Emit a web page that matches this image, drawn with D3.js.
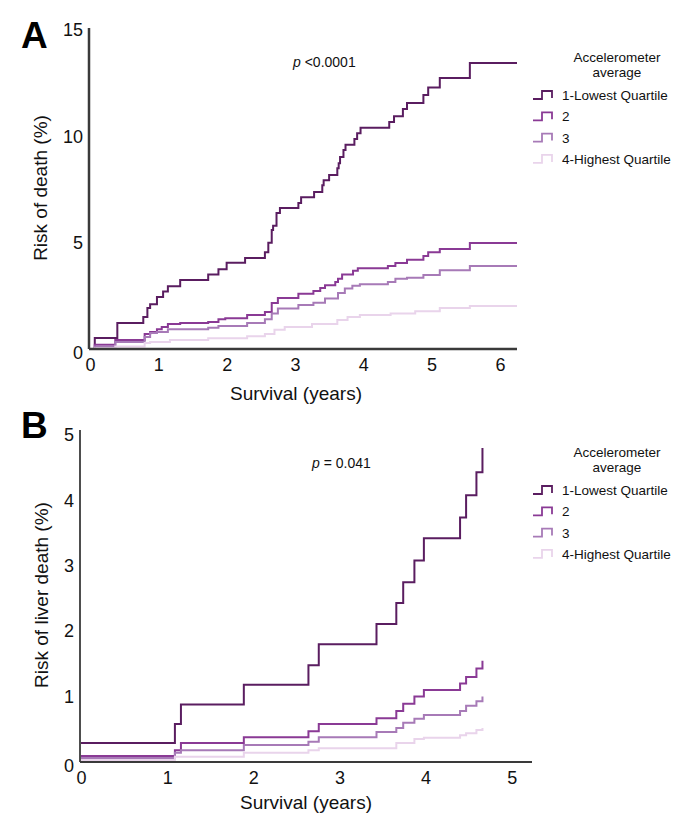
<!DOCTYPE html>
<meta charset="utf-8">
<script src="https://d3js.org/d3.v7.min.js"></script>
<style>
body { margin: 0; background: #fff; }
svg { display: block; font-family: "Liberation Sans", Arial, sans-serif; }
.tick text { font-size: 18px; fill: #111; }
.axis-title { font-size: 19px; fill: #111; }
.legend text { font-size: 13.5px; fill: #111; }
</style>
<body>
<div class="chart"></div>
<script>

// legend categories and colours
var quartiles = ["1-Lowest Quartile", "2", "3", "4-Highest Quartile"],
    colors = ["#5a1d60", "#8a3a95", "#a77ab7", "#e9d4eb"];

// Panel A: cumulative risk of death (%), [years, risk]
var deathQ1 = [[0,0],[0.07,0.52],[0.4,1.22],[0.78,1.5],[0.84,1.93],[0.88,2.1],[0.98,2.45],[1.07,2.7],[1.14,2.95],[1.32,3.24],[1.73,3.5],[1.88,3.75],[2.0,4.05],[2.27,4.28],[2.56,4.55],[2.61,5.0],[2.66,5.6],[2.68,5.8],[2.73,6.4],[2.78,6.63],[3.05,6.86],[3.09,7.14],[3.28,7.38],[3.4,7.7],[3.42,7.94],[3.5,8.18],[3.62,8.5],[3.64,8.74],[3.66,9.03],[3.71,9.36],[3.74,9.6],[3.87,9.87],[3.91,10.15],[3.96,10.4],[4.38,10.67],[4.45,10.95],[4.58,11.28],[4.64,11.57],[4.88,11.94],[4.95,12.3],[5.12,12.74],[5.56,13.45],[6.25,13.45]];
var deathQ2 = [[0,0],[0.07,0.2],[0.37,0.42],[0.8,0.7],[0.88,0.8],[0.98,0.93],[1.05,1.03],[1.14,1.17],[1.32,1.22],[1.73,1.27],[1.88,1.4],[1.98,1.45],[2.3,1.6],[2.56,1.74],[2.66,2.16],[2.75,2.4],[3.05,2.6],[3.27,2.73],[3.37,2.87],[3.44,3.0],[3.59,3.15],[3.63,3.3],[3.69,3.5],[3.85,3.68],[3.92,3.8],[4.36,3.9],[4.47,4.04],[4.64,4.2],[4.88,4.37],[4.95,4.55],[5.12,4.7],[5.56,4.98],[6.25,4.98]];
var deathQ3 = [[0,0],[0.07,0.12],[0.37,0.33],[0.8,0.56],[0.88,0.75],[0.98,0.8],[1.14,0.93],[1.73,1.0],[1.88,1.08],[2.3,1.22],[2.56,1.4],[2.66,1.67],[2.75,1.9],[3.05,2.07],[3.27,2.18],[3.44,2.38],[3.63,2.63],[3.73,2.85],[3.84,2.97],[3.95,3.05],[4.36,3.15],[4.47,3.3],[4.64,3.35],[4.88,3.48],[5.12,3.7],[5.56,3.9],[6.25,3.9]];
var deathQ4 = [[0,0],[0.07,0.04],[0.37,0.12],[0.8,0.28],[0.88,0.33],[1.17,0.42],[1.73,0.5],[2.3,0.6],[2.56,0.7],[2.7,0.9],[2.85,1.03],[3.25,1.17],[3.62,1.36],[3.77,1.5],[3.95,1.6],[4.4,1.67],[4.76,1.78],[5.12,1.93],[5.56,2.02],[6.25,2.02]];

// Panel B: cumulative risk of liver death (%)
var liverQ1 = [[0,0.29],[1.09,0.58],[1.16,0.88],[1.89,1.18],[2.64,1.48],[2.76,1.8],[3.43,2.11],[3.66,2.43],[3.74,2.75],[3.87,3.08],[3.98,3.42],[4.4,3.74],[4.47,4.08],[4.59,4.43],[4.66,4.8]];
var liverQ2 = [[0,0.09],[1.09,0.18],[1.16,0.29],[1.89,0.38],[2.64,0.47],[2.76,0.58],[3.43,0.67],[3.66,0.78],[3.74,0.89],[3.87,1.0],[3.98,1.1],[4.4,1.2],[4.47,1.3],[4.59,1.43],[4.66,1.55]];
var liverQ3 = [[0,0.06],[1.09,0.14],[1.16,0.18],[1.89,0.26],[2.64,0.31],[2.76,0.38],[3.43,0.46],[3.66,0.52],[3.74,0.6],[3.87,0.66],[3.98,0.72],[4.4,0.78],[4.47,0.86],[4.59,0.93],[4.66,1.0]];
var liverQ4 = [[0,0.03],[1.09,0.08],[1.89,0.14],[2.64,0.18],[2.76,0.21],[3.66,0.29],[3.87,0.35],[3.98,0.37],[4.4,0.41],[4.47,0.44],[4.59,0.49],[4.66,0.52]];

var xTicksA = [0, 1, 2, 3, 4, 5, 6], yTicksA = [0, 5, 10, 15],
    xTicksB = [0, 1, 2, 3, 4, 5], yTicksB = [0, 1, 2, 3, 4, 5];

var svg = d3.select(".chart").append("svg")
    .attr("width", 692)
    .attr("height", 820);

function panel(opt) {
  var g = svg.append("g");
  var x = d3.scaleLinear().domain(opt.xDomain).range(opt.xRange),
      y = d3.scaleLinear().domain(opt.yDomain).range(opt.yRange);

  // curves
  var line = d3.line()
      .x(function(d) { return x(d[0]); })
      .y(function(d) { return y(d[1]); })
      .curve(d3.curveStepAfter);

  g.selectAll(".km")
    .data(opt.series)
    .enter().append("path")
      .attr("class", "km")
      .attr("d", line)
      .attr("fill", "none")
      .attr("stroke", function(d, i) { return colors[i]; })
      .attr("stroke-width", 2);

  // axes
  g.append("g")
      .attr("transform", "translate(0," + opt.yRange[0] + ")")
      .call(d3.axisBottom(x).tickValues(opt.xTicks).tickFormat(d3.format("d"))
              .tickSize(0).tickPadding(9).tickSizeOuter(0))
      .call(function(a) {
        a.attr("font-family", null).attr("font-size", null);
        a.select(".domain").attr("stroke", "#3a3a3a").attr("stroke-width", opt.axisWidth)
          .attr("d", "M" + opt.axisX + ",0H" + opt.xRange[1]);
      });

  g.append("g")
      .attr("transform", "translate(" + opt.axisX + ",0)")
      .call(d3.axisLeft(y).tickValues(opt.yTicks).tickFormat(d3.format("d"))
              .tickSize(0).tickPadding(6).tickSizeOuter(0))
      .call(function(a) {
        a.attr("font-family", null).attr("font-size", null);
        a.select(".domain").attr("stroke", "#3a3a3a").attr("stroke-width", opt.axisWidth)
          .attr("d", "M0," + opt.yRange[0] + "V" + opt.axisTop);
        a.selectAll(".tick").filter(function(d) { return d === 0; })
          .select("text").attr("dy", "0.55em");
      });

  // titles
  g.append("text")
      .attr("class", "axis-title")
      .attr("x", opt.xTitle[0]).attr("y", opt.xTitle[1])
      .attr("text-anchor", "middle")
      .text("Survival (years)");

  g.append("text")
      .attr("class", "axis-title")
      .attr("transform", "translate(" + opt.yTitle[0] + "," + opt.yTitle[1] + ") rotate(-90)")
      .attr("text-anchor", "middle")
      .text(opt.yLabel);

  g.append("text")
      .attr("x", 21).attr("y", opt.letterY)
      .attr("font-size", 37).attr("font-weight", "bold")
      .text(opt.letter);

  var p = g.append("text")
      .attr("x", opt.pPos[0]).attr("y", opt.pPos[1])
      .attr("font-size", 14).attr("fill", "#111");
  p.append("tspan").attr("font-style", "italic").text("p");
  p.append("tspan").text(opt.pText);

  // legend
  var leg = g.append("g").attr("class", "legend")
      .attr("transform", "translate(0," + opt.legendY + ")");

  leg.append("text").attr("x", 617).attr("y", 0).attr("text-anchor", "middle").text("Accelerometer");
  leg.append("text").attr("x", 617).attr("y", 15).attr("text-anchor", "middle").text("average");

  var items = leg.selectAll(".item")
      .data(quartiles)
      .enter().append("g")
      .attr("class", "item")
      .attr("transform", function(d, i) { return "translate(0," + (33 + i * 21.3) + ")"; });

  items.append("path")
      .attr("d", "M533,4H542V-4H552V3")
      .attr("fill", "none")
      .attr("stroke-width", 1.8)
      .attr("stroke", function(d, i) { return colors[i]; });

  items.append("text")
      .attr("x", 562)
      .attr("y", 5)
      .text(function(d) { return d; });
}

panel({
  series: [deathQ1, deathQ2, deathQ3, deathQ4],
  xDomain: [0, 6.25], xRange: [90, 517],
  yDomain: [0, 15], yRange: [349, 30],
  xTicks: xTicksA, yTicks: yTicksA,
  axisX: 89, axisTop: 28, axisWidth: 2.5,
  xTitle: [296, 400], yTitle: [47, 188],
  yLabel: "Risk of death (%)",
  letter: "A", letterY: 48,
  pPos: [293, 67], pText: " <0.0001",
  legendY: 62
});

panel({
  series: [liverQ1, liverQ2, liverQ3, liverQ4],
  xDomain: [0, 5.235], xRange: [81, 532],
  yDomain: [0, 5], yRange: [762, 435],
  xTicks: xTicksB, yTicks: yTicksB,
  axisX: 80, axisTop: 430, axisWidth: 1.8,
  xTitle: [306, 809], yTitle: [48, 595],
  yLabel: "Risk of liver death (%)",
  letter: "B", letterY: 438,
  pPos: [312, 468], pText: " = 0.041",
  legendY: 457
});

</script>
</body>
</html>
